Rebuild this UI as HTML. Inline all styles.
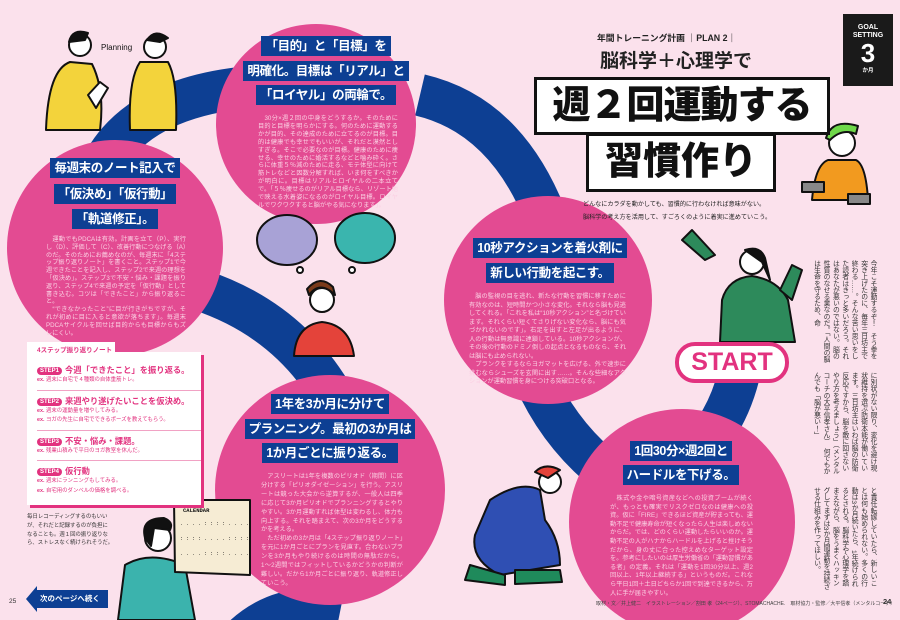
<!DOCTYPE html>
<html><head><meta charset="utf-8">
<style>
*{margin:0;padding:0;box-sizing:border-box}
body{width:900px;height:620px;overflow:hidden;background:#fbe1ec;font-family:"Liberation Sans","Noto Sans CJK JP",sans-serif;position:relative}
.abs{position:absolute}
.band{position:absolute;text-align:center;font-size:12.5px;letter-spacing:-0.4px}
.band span{display:inline-block;background:#0d3f93;color:#fff;font-weight:bold;padding:0 4px;line-height:20px;white-space:nowrap}
.body{position:absolute;color:#fbd0e3;font-size:6.2px;text-align:justify;letter-spacing:0}
.vt{position:absolute;writing-mode:vertical-rl;font-size:6.8px;line-height:9.4px;color:#333;letter-spacing:-0.2px}
.step{font-size:8.3px;font-weight:bold;color:#e2327f;white-space:nowrap;line-height:11px}
.step b{display:inline-block;background:#e2327f;color:#fff;border-radius:5px;font-size:6px;line-height:8px;padding:0 3px;margin-right:3px;vertical-align:1px}
.ex{font-size:5.4px;color:#e2327f;line-height:9.5px;white-space:nowrap}
.ex i{font-style:normal;font-weight:bold}
hr{border:0;border-top:1px solid #f1a2c4;margin:4px 0 5px}
</style></head><body>
<svg class="abs" style="left:0;top:0" width="900" height="620">
 <g fill="none" stroke="#0d3f93" stroke-width="42">
  <path d="M105 160 Q140 100 240 88"/>
  <path d="M420 95 Q505 115 545 215"/>
  <path d="M200 290 Q290 320 335 400"/>
  <path d="M540 390 Q565 440 610 475"/>
  <path d="M742 360 Q735 400 715 430"/>
  <path d="M240 640 Q280 600 340 612"/>
 </g>
 <circle cx="316" cy="124" r="100" fill="#e34b92"/>
 <circle cx="115" cy="248" r="108" fill="#e34b92"/>
 <circle cx="548" cy="300" r="104" fill="#e34b92"/>
 <circle cx="330" cy="490" r="115" fill="#e34b92"/>
 <circle cx="682" cy="522" r="113" fill="#e34b92"/>
 <g stroke="#111" stroke-width="2" stroke-linejoin="round">
  <path d="M70 62 Q48 70 46 130 L100 130 Q105 90 92 64Z" fill="#f3d33b"/>
  <path d="M140 62 Q128 80 130 130 L176 130 Q178 80 168 62Z" fill="#f3d33b"/>
  <circle cx="80" cy="45" r="11" fill="#fff"/>
  <path d="M69 42 Q72 28 88 33 L85 40Z" fill="#111"/>
  <circle cx="155" cy="47" r="11" fill="#fff"/>
  <path d="M147 40 Q155 28 168 38 L160 42Z" fill="#111"/>
  <path d="M88 95 L100 82 L108 88 L96 108Z" fill="#fff"/>
  <ellipse cx="287" cy="240" rx="30" ry="25" fill="#a8a2d6"/>
  <ellipse cx="365" cy="238" rx="30" ry="25" fill="#3ab5ae"/>
  <circle cx="300" cy="270" r="3" fill="#fff"/><circle cx="352" cy="270" r="3" fill="#fff"/>
  <path d="M294 356 Q296 325 322 322 Q350 325 354 356Z" fill="#e4433a"/>
  <circle cx="322" cy="300" r="12" fill="#fff"/>
  <path d="M309 295 Q320 280 335 295 L333 287 Q320 274 307 289Z" fill="#7a3a1a"/>
  <path d="M828 160 Q815 165 812 200 L868 200 Q866 165 856 160Z" fill="#f29a1f"/>
  <circle cx="842" cy="143" r="13" fill="#fff"/>
  <path d="M826 138 Q832 118 858 126 L856 134 Q842 128 830 140Z" fill="#6fd84a"/>
  <rect x="802" y="182" width="22" height="10" fill="#888"/><rect x="848" y="194" width="22" height="10" fill="#888"/>
  <path d="M722 300 Q728 278 752 276 Q778 280 788 300 L795 342 L720 342Z" fill="#2d8a5b"/>
  <path d="M705 260 L682 240 L692 230 L715 255Z" fill="#2d8a5b"/>
  <path d="M780 290 L792 265 L802 270 L792 300Z" fill="#2d8a5b"/>
  <circle cx="752" cy="262" r="12" fill="#fff"/>
  <path d="M745 250 Q760 245 765 258 L770 280 L762 262Z" fill="#111"/>
  <path d="M490 500 Q520 480 540 490 L545 520 Q560 540 560 565 L500 575 Q470 560 475 535Z" fill="#2f4fb3"/>
  <circle cx="550" cy="482" r="11" fill="#fff"/>
  <path d="M535 472 Q545 462 560 470 L548 478Z" fill="#e4433a"/>
  <path d="M470 565 L505 575 L505 585 L465 580Z" fill="#1f8a5b"/>
  <path d="M515 570 L560 570 L562 582 L515 584Z" fill="#1f8a5b"/>
  <path d="M125 565 Q150 550 185 565 L195 620 L118 620Z" fill="#3bb3ad"/>
  <circle cx="158" cy="538" r="13" fill="#fff"/>
  <path d="M145 538 Q140 518 164 518 Q174 522 170 530 L154 528 L151 546Z" fill="#111"/>
  <path d="M174 500 L250 500 L250 575 L175 572Z" fill="#f6ecd4"/>
 </g>
 <text x="101" y="50" font-size="8" font-family="Liberation Sans" fill="#111">Planning</text>
 <text x="183" y="512" font-size="5.5" font-weight="bold" font-family="Liberation Mono" fill="#111">CALENDAR</text>
 <g fill="#111" font-size="5" font-family="Liberation Mono">
  <text x="180" y="525">. . . . : : : : . . . .</text><text x="180" y="540">: : : : . . . . : : : :</text><text x="180" y="555">. . . . : : : : . . . .</text>
 </g>
</svg>

<div class="band" style="left:216px;width:220px;top:36px"><span>「目的」と「目標」を</span></div>
<div class="band" style="left:216px;width:220px;top:61px"><span>明確化。目標は「リアル」と</span></div>
<div class="band" style="left:216px;width:220px;top:85px"><span>「ロイヤル」の両輪で。</span></div>
<div class="body" style="left:258px;top:115px;width:140px;line-height:7.9px">　30分×週２回の中身をどうするか。そのために目的と目標を明らかにする。何のために運動するかが目的、その達成のために立てるのが目標。目的は健康でも幸せでもいいが、それだと漠然としすぎる。そこで必要なのが目標。健康のために痩せる、幸せのために婚活するなどと噛み砕く。さらに体重５％減のために走る、モテ体型に向けて筋トレなどと因数分解すれば、いま何をすべきかが明白に。目標はリアルとロイヤルの二本立てで。「５％痩せるのがリアル目標なら、リゾート地で映える水着姿になるのがロイヤル目標。ロイヤルでワクワクすると脳がやる気になります」。</div>

<div class="band" style="left:5px;width:220px;top:158px"><span>毎週末のノート記入で</span></div>
<div class="band" style="left:5px;width:220px;top:184px"><span>「仮決め」「仮行動」</span></div>
<div class="band" style="left:5px;width:220px;top:209px"><span>「軌道修正」。</span></div>
<div class="body" style="left:46px;top:236px;width:140px;line-height:7.8px">　運動でもPDCAは有効。計画を立て（P）、実行し（D）、評価して（C）、改善行動につなげる（A）のだ。そのためにお薦めなのが、毎週末に「4ステップ振り返りノート」を書くこと。ステップ1で今週できたことを記入し、ステップ2で来週の理想を「仮決め」。ステップ3で不安・悩み・課題を振り返り、ステップ4で来週の予定を「仮行動」として書き込む。コツは「できたこと」から振り返ること。<br>　“できなかったこと”に目が行きがちですが、それが初めに目に入ると意欲が落ちます」。毎週末PDCAサイクルを回せば目的からも目標からもズレにくい。</div>

<div class="band" style="left:440px;width:220px;top:238px"><span>10秒アクションを着火剤に</span></div>
<div class="band" style="left:440px;width:220px;top:263px"><span>新しい行動を起こす。</span></div>
<div class="body" style="left:469px;top:293px;width:157px;line-height:8.5px">　脳の監視の目を逃れ、新たな行動を習慣に移すために有効なのは、短時間かつ小さな変化。それなら脳も見逃してくれる。「これを私は“10秒アクション”と名づけています。それくらい短くてさりげない変化なら、脳にも気づかれないのです」。右足を出すと左足が出るように、人の行動は無意識に連鎖している。10秒アクションが、その後の行動のドミノ倒しの起点となるものなら、それは脳にも止められない。<br>　プランクをするならヨガマットを広げる、外で速歩に挑むならシューズを玄関に出す……。そんな些細なアクションが運動習慣を身につける突破口となる。</div>

<div class="band" style="left:220px;width:220px;top:394px"><span>1年を3か月に分けて</span></div>
<div class="band" style="left:220px;width:220px;top:419px"><span>プランニング。最初の3か月は</span></div>
<div class="band" style="left:220px;width:220px;top:443px"><span>1か月ごとに振り返る。</span></div>
<div class="body" style="left:261px;top:473px;width:142px;line-height:8.9px">　アスリートは1年を複数のピリオド（期間）に区分けする「ピリオダイゼーション」を行う。アスリートは競った大会から逆算するが、一般人は四季に応じて3か月ピリオドでプランニングするとやりやすい。3か月運動すれば体型は変わるし、体力も向上する。それを踏まえて、次の3か月をどうするかを考える。<br>　ただ初めの3か月は「4ステップ振り返りノート」を元に1か月ごとにプランを見直す。合わないプランを3か月もやり続けるのは時間の無駄だから。1〜2週間ではフィットしているかどうかの判断が難しい。だから1か月ごとに振り返り、軌道修正していこう。</div>

<div class="band" style="left:570px;width:222px;top:441px"><span>1回30分×週2回と</span></div>
<div class="band" style="left:570px;width:222px;top:465px"><span>ハードルを下げる。</span></div>
<div class="body" style="left:610px;top:495px;width:143px;line-height:8.6px">　株式や金や暗号資産などへの投資ブームが続くが、もっとも確実でリスクゼロなのは健康への投資。仮に「FIRE」できるほど資産が貯まっても、運動不足で健康寿命が短くなったら人生は楽しめないからだ。では、どのくらい運動したらいいのか。運動不足の人がハナからハードルを上げると挫けそうだから、身の丈に合った控えめなターゲット設定を。参考にしたいのは厚生労働省の「運動習慣がある者」の定義。それは「運動を1回30分以上、週2回以上、1年以上継続する」というものだ。これなら平日1回＋土日どちらか1回で到達できるから、万人に手が届きやすい。</div>

<div class="abs" style="left:597px;top:31px;font-size:8.8px;font-weight:bold;color:#222;white-space:nowrap">年間トレーニング計画 ｜PLAN 2｜</div>
<div class="abs" style="left:600px;top:46px;font-size:19px;font-weight:bold;color:#222;white-space:nowrap">脳科学＋心理学で</div>
<div class="abs" style="left:534px;top:77px;width:296px;height:58px;background:#fff;border:3px solid #111;font-size:38px;font-weight:900;color:#111;text-align:center;line-height:52px;white-space:nowrap;letter-spacing:-1px">週２回運動する</div>
<div class="abs" style="left:586px;top:133px;width:190px;height:59px;background:#fff;border:3px solid #111;font-size:38px;font-weight:900;color:#111;text-align:center;line-height:53px">習慣作り</div>
<div class="abs" style="left:583px;top:199px;font-size:6.1px;line-height:12.5px;color:#222;white-space:nowrap">どんなにカラダを動かしても、習慣的に行わなければ意味がない。<br>脳科学の考え方を活用して、すごろくのように着実に進めていこう。</div>
<div class="abs" style="left:843px;top:14px;width:50px;height:72px;background:#1a1a1a;color:#fff;text-align:center;font-weight:bold">
 <div style="font-size:7px;line-height:8px;margin-top:10px">GOAL<br>SETTING</div>
 <div style="font-size:26px;line-height:26px">3</div>
 <div style="font-size:5.5px">か月</div>
</div>

<div class="abs" style="left:675px;top:342px;width:114px;height:41px;border:4px solid #e2327f;border-radius:20px;background:#fff;color:#e2327f;font-weight:900;font-size:25px;text-align:center;line-height:33px">START</div>

<div class="vt" style="right:23px;top:260px;height:104px">今年こそ運動するぞ！　そう拳を突き上げたのに、毎年三日坊主で終わる……。そんな苦い思いをした読者はきっと多いだろう。それはあなたが悪いのではない。脳の性質のなせる業なのだ。「人間の脳は生命を守るため、命</div>
<div class="vt" style="right:23px;top:372px;height:104px">に別状がない限り、変化を避け現状維持を選ぶ防衛本能が働いています。三日坊主はいわば脳の防衛反応ですから、脳を敵に回さないやり方を考えましょう」（メンタルコーチの大平信孝さん）　何でもかんでも「脳が悪い！」</div>
<div class="vt" style="right:23px;top:487px;height:104px">と責任転嫁していたら、新しいことは何も始められない。多くの行動は3か月続いたら、1年続けられるとされる。脳科学や心理学を踏まえながら、脳をうまくハッキングしてまずは3か月間運動を持続させる仕組みを作ってほしい。</div>

<div class="abs" style="left:27px;top:342px;width:88px;height:14px;background:#fff"></div>
<div class="abs" style="left:27px;top:352px;width:174px;height:153px;background:#fff;box-shadow:3px 3px 0 #e2327f"></div>
<div class="abs" style="left:37px;top:346px;width:164px">
 <div style="font-size:6.5px;font-weight:bold;color:#e2327f;line-height:10px;margin-bottom:9px">4ステップ振り返りノート</div>
 <div class="step"><b>STEP1</b>今週「できたこと」を振り返る。</div>
 <div class="ex"><i>ex.</i> 週末に自宅で４種類の自体重筋トレ。</div><hr>
 <div class="step"><b>STEP2</b>来週やり遂げたいことを仮決め。</div>
 <div class="ex"><i>ex.</i> 週末の運動量を増やしてみる。<br><i>ex.</i> ヨガの先生に自宅でできるポーズを教えてもらう。</div><hr>
 <div class="step"><b>STEP3</b>不安・悩み・課題。</div>
 <div class="ex"><i>ex.</i> 残業山積みで平日のヨガ教室を休んだ。</div><hr>
 <div class="step"><b>STEP4</b>仮行動</div>
 <div class="ex"><i>ex.</i> 週末にランニングもしてみる。<br><i>ex.</i> 自宅用のダンベルの価格を調べる。</div>
</div>
<div class="abs" style="left:27px;top:513px;font-size:5.4px;line-height:8.8px;color:#333;white-space:nowrap">毎日レコーディングするのもいい<br>が、それだと記録するのが負担に<br>なることも。週１回の振り返りな<br>ら、ストレスなく続けられそうだ。</div>

<div class="abs" style="left:36px;top:590px;width:72px;height:18px;background:#0d3f93;color:#fff;font-size:7.5px;font-weight:bold;line-height:18px;padding-left:4px;white-space:nowrap">次のページへ続く</div>
<div class="abs" style="left:26px;top:586px;width:0;height:0;border-top:13px solid transparent;border-bottom:13px solid transparent;border-right:11px solid #0d3f93"></div>
<div class="abs" style="left:9px;top:598px;font-size:6.5px;color:#333">25</div>
<div class="abs" style="left:596px;top:600px;font-size:5px;color:#444;white-space:nowrap">取材・文／井上健二　イラストレーション／割田 孝（24ページ）、STOMACHACHE.　取材協力・監修／大平信孝（メンタルコーチ）</div>
<div class="abs" style="left:883px;top:597px;font-size:7.5px;font-weight:bold;color:#333">24</div>
</body></html>
